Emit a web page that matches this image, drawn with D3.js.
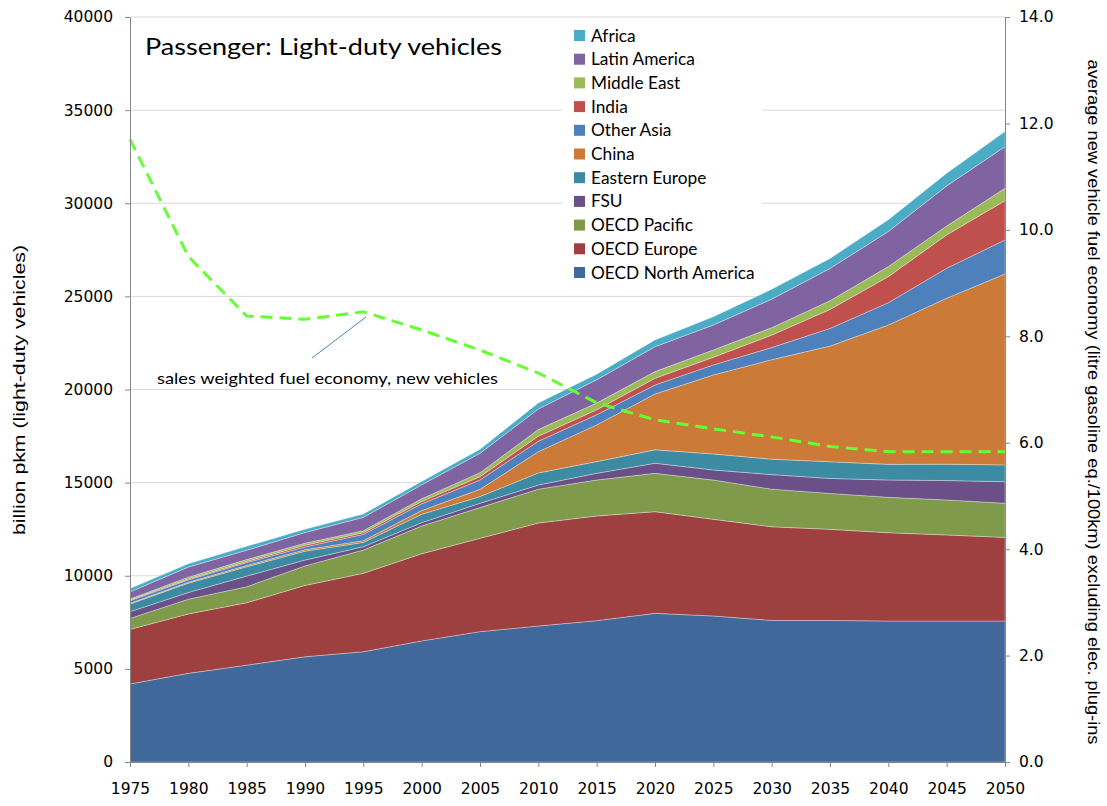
<!DOCTYPE html>
<html>
<head>
<meta charset="utf-8">
<script src="https://cdn.jsdelivr.net/npm/d3@7"></script>
<style>
  body { margin: 0; background: #fff; }
</style>
</head>
<body>
<svg id="chart"></svg>
<script>
// years on the x axis
const years = [1975, 1980, 1985, 1990, 1995, 2000, 2005, 2010, 2015, 2020, 2025, 2030, 2035, 2040, 2045, 2050];

// regions, bottom of the stack first
const regions = ["OECD North America", "OECD Europe", "OECD Pacific", "FSU", "Eastern Europe",
    "China", "Other Asia", "India", "Middle East", "Latin America", "Africa"];

// billion pkm per region
const oecdNorthAmerica = [4190, 4760, 5200, 5650, 5920, 6500, 7000, 7300, 7590, 7980, 7840, 7600, 7600, 7570, 7570, 7570];
const oecdEurope       = [2930, 3190, 3350, 3830, 4210, 4680, 5010, 5530, 5620, 5460, 5190, 5030, 4890, 4740, 4620, 4490];
const oecdPacific      = [590, 790, 860, 1050, 1250, 1490, 1650, 1820, 1930, 2060, 2110, 2020, 1930, 1900, 1880, 1830];
const fsu              = [360, 360, 570, 310, 180, 180, 230, 220, 360, 540, 540, 780, 805, 930, 1040, 1160];
const easternEurope    = [410, 500, 500, 480, 230, 450, 360, 650, 630, 720, 860, 830, 895, 840, 880, 900];
const china            = [40, 50, 70, 80, 90, 200, 390, 1140, 1970, 3000, 4240, 5340, 6210, 7480, 8910, 10250];
const otherAsia        = [140, 130, 160, 150, 340, 360, 500, 560, 540, 480, 540, 650, 950, 1200, 1610, 1830];
const india            = [40, 50, 60, 90, 90, 125, 180, 270, 270, 360, 410, 670, 1020, 1400, 1790, 2110];
const middleEast       = [50, 95, 100, 110, 110, 145, 215, 360, 360, 360, 390, 400, 465, 540, 480, 660];
const latinAmerica     = [380, 540, 500, 570, 715, 750, 1040, 1100, 1250, 1340, 1340, 1530, 1735, 1880, 2150, 2240];
const africa           = [180, 180, 210, 180, 180, 180, 215, 330, 305, 360, 450, 530, 535, 630, 680, 810];

// sales weighted fuel economy of new vehicles (l/100km), right axis
const fuelEconomy = [11.7, 9.5, 8.38, 8.32, 8.46, 8.12, 7.74, 7.31, 6.75, 6.43, 6.26, 6.11, 5.93, 5.83, 5.83, 5.83];

const leftTicks = [0, 5000, 10000, 15000, 20000, 25000, 30000, 35000, 40000];
const rightTicks = [0, 2, 4, 6, 8, 10, 12, 14];

const series = [oecdNorthAmerica, oecdEurope, oecdPacific, fsu, easternEurope,
    china, otherAsia, india, middleEast, latinAmerica, africa];

const colors = ["#41689B", "#9D403F", "#7F9A4A", "#6A5087", "#3C8BA3",
    "#CB7A38", "#4E80BC", "#C0504D", "#9BBB59", "#8064A2", "#4BACC6"];

const width = 1107;
const height = 806;
const margin = { top: 17, right: 102, bottom: 44, left: 130 };
const innerW = width - margin.left - margin.right;
const innerH = height - margin.top - margin.bottom;

const svg = d3.select("#chart")
    .attr("width", width)
    .attr("height", height);

const g = svg.append("g")
    .attr("transform", `translate(${margin.left},${margin.top})`);

// rows for the stack
const table = years.map((yr, i) => {
    const row = { year: yr };
    regions.forEach((r, j) => row[r] = series[j][i]);
    return row;
});

const x = d3.scaleLinear().domain([1975, 2050]).range([0, innerW]);
const y = d3.scaleLinear().domain([0, 40000]).range([innerH, 0]);
const y2 = d3.scaleLinear().domain([0, 14]).range([innerH, 0]);
const color = d3.scaleOrdinal().domain(regions).range(colors);

// gridlines
g.append("g")
    .selectAll("line")
    .data(leftTicks.slice(1))
    .join("line")
    .attr("x1", 0)
    .attr("x2", innerW)
    .attr("y1", d => y(d))
    .attr("y2", d => y(d))
    .attr("stroke", "#d9d9d9")
    .attr("stroke-width", 1);

// stacked areas
const stacked = d3.stack().keys(regions)(table);
const area = d3.area()
    .x(d => x(d.data.year))
    .y0(d => y(d[0]))
    .y1(d => y(d[1]));

g.append("g")
    .selectAll("path")
    .data(stacked)
    .join("path")
    .attr("d", area)
    .attr("fill", d => color(d.key))
    .attr("stroke", "rgba(255,255,255,0.45)")
    .attr("stroke-width", 0.7);

// fuel economy line
const line = d3.line()
    .x((d, i) => x(years[i]))
    .y(d => y2(d));

g.append("path")
    .datum(fuelEconomy)
    .attr("d", line)
    .attr("fill", "none")
    .attr("stroke", "#66FF33")
    .attr("stroke-width", 3)
    .attr("stroke-dasharray", "12,7");

// axes
const axisColor = "#868686";
const tickFont = "DejaVu Sans, Verdana, sans-serif";

const leftAxis = g.append("g")
    .call(d3.axisLeft(y).tickValues(leftTicks).tickFormat(d3.format("d")).tickSize(5).tickPadding(12));

const rightAxis = g.append("g")
    .attr("transform", `translate(${innerW},0)`)
    .call(d3.axisRight(y2).tickValues(rightTicks).tickFormat(d3.format(".1f")).tickSize(5).tickPadding(9));

const bottomAxis = g.append("g")
    .attr("transform", `translate(0,${innerH})`)
    .call(d3.axisBottom(x).tickValues(years).tickFormat(d3.format("d")).tickSize(5).tickPadding(16));

[leftAxis, rightAxis, bottomAxis].forEach(a => {
    a.selectAll("path, line").attr("stroke", axisColor);
    a.selectAll("text")
        .attr("font-family", tickFont)
        .attr("font-size", "15.5px")
        .attr("fill", "#000");
});

// axis titles
svg.append("text")
    .attr("transform", "translate(25,390) rotate(-90)")
    .attr("text-anchor", "middle")
    .attr("font-family", "Liberation Sans Narrow, Arial Narrow, sans-serif")
    .attr("font-size", "16px")
    .attr("textLength", 290)
    .attr("lengthAdjust", "spacingAndGlyphs")
    .text("billion pkm (light-duty vehicles)");

svg.append("text")
    .attr("transform", "translate(1088,402) rotate(90)")
    .attr("text-anchor", "middle")
    .attr("font-family", "Liberation Sans Narrow, Arial Narrow, sans-serif")
    .attr("font-size", "16px")
    .attr("textLength", 685)
    .attr("lengthAdjust", "spacingAndGlyphs")
    .text("average new vehicle fuel economy (litre  gasoline eq./100km) excluding elec. plug-ins");

// chart title
svg.append("text")
    .attr("x", 145)
    .attr("y", 55)
    .attr("font-family", "Lato, Open Sans, sans-serif")
    .attr("font-size", "24px")
    .attr("textLength", 357)
    .attr("lengthAdjust", "spacingAndGlyphs")
    .text("Passenger: Light-duty vehicles");

// annotation for the dashed line
svg.append("line")
    .attr("x1", 312)
    .attr("y1", 358)
    .attr("x2", 366)
    .attr("y2", 317)
    .attr("stroke", "#4F81BD")
    .attr("stroke-width", 1);

svg.append("text")
    .attr("x", 157)
    .attr("y", 384)
    .attr("font-family", "Lato, Open Sans, sans-serif")
    .attr("font-size", "16px")
    .attr("textLength", 341)
    .attr("lengthAdjust", "spacingAndGlyphs")
    .text("sales weighted fuel economy, new vehicles");

// legend, Africa on top
const legendItems = regions.slice().reverse();
const legend = svg.append("g").attr("transform", "translate(562,22)");

legend.append("rect")
    .attr("width", 200)
    .attr("height", 264)
    .attr("fill", "#fff");

const items = legend.selectAll(".legend")
    .data(legendItems)
    .join("g")
    .attr("class", "legend")
    .attr("transform", (d, i) => `translate(12, ${i * 23.7 + 8})`);

items.append("rect")
    .attr("width", 11)
    .attr("height", 11)
    .attr("fill", d => color(d));

items.append("text")
    .text(d => d)
    .attr("x", 17)
    .attr("y", 11.5)
    .attr("font-family", "Lato, Open Sans, sans-serif")
    .attr("font-size", "17.3px");
</script>
</body>
</html>
